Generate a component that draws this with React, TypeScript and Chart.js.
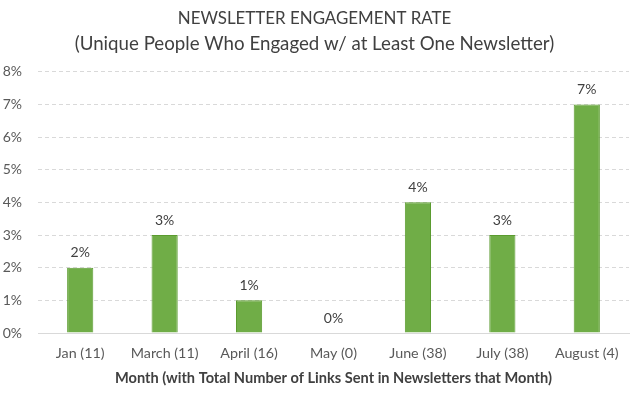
import React, { useEffect, useRef } from "react";
import { Chart, registerables } from "chart.js";

Chart.register(...registerables);

const categories = ["Jan (11)", "March (11)", "April (16)", "May (0)", "June (38)", "July (38)", "August (4)"];
const values = [2, 3, 1, 0, 4, 3, 7];
const titleLine1 = "NEWSLETTER ENGAGEMENT RATE";
const titleLine2 = "(Unique People Who Engaged w/ at Least One Newsletter)";
const xAxisTitle = "Month (with Total Number of Links Sent in Newsletters that Month)";

const FONT = "Lato, 'Open Sans', sans-serif";

const labelPlugin = {
  id: "valueLabels",
  afterDatasetsDraw(chart: any) {
    const { ctx } = chart;
    const meta = chart.getDatasetMeta(0);
    ctx.save();
    ctx.font = `14px ${FONT}`;
    ctx.fillStyle = "#404040";
    ctx.textAlign = "center";
    ctx.textBaseline = "middle";
    meta.data.forEach((bar: any, i: number) => {
      ctx.fillText(values[i] + "%", bar.x, bar.y - 15);
    });
    ctx.restore();
  },
};

export default function App() {
  const ref = useRef<HTMLCanvasElement | null>(null);
  useEffect(() => {
    document.body.style.margin = "0";
    const chart = new Chart(ref.current!, {
      type: "bar",
      data: {
        labels: categories,
        datasets: [
          {
            data: values,
            backgroundColor: "#70AD47",
            borderColor: "#5B9B2F",
            borderWidth: 1,
            categoryPercentage: 1,
            barPercentage: 0.31,
          },
        ],
      },
      plugins: [labelPlugin],
      options: {
        animation: false,
        responsive: false,
        maintainAspectRatio: false,
        layout: { padding: { left: 0, right: 11, top: 0, bottom: 0 } },
        plugins: {
          legend: { display: false },
          tooltip: { enabled: false },
          title: {
            display: true,
            text: titleLine1,
            color: "#404040",
            font: { family: FONT, size: 16.9, weight: "normal", lineHeight: 1.2 },
            padding: { top: 8, bottom: 4 },
          },
          subtitle: {
            display: true,
            text: titleLine2,
            color: "#404040",
            font: { family: FONT, size: 18.7, weight: "normal", lineHeight: 1.2 },
            padding: { top: 0, bottom: 17 },
          },
        },
        scales: {
          x: {
            afterFit: (scale: any) => {
              scale.height = 64;
            },
            grid: { display: false, drawTicks: false },
            border: { color: "#D9D9D9", width: 1 },
            ticks: {
              color: "#595959",
              font: { family: FONT, size: 14.3 },
              padding: 11.4,
              maxRotation: 0,
              minRotation: 0,
              autoSkip: false,
            },
            title: {
              display: true,
              text: xAxisTitle,
              color: "#404040",
              font: { family: FONT, size: 14.6, weight: "bold" },
              padding: { top: 0, bottom: 10 },
            },
          },
          y: {
            afterFit: (scale: any) => {
              scale.width = 38;
            },
            min: 0,
            max: 8,
            ticks: {
              stepSize: 1,
              color: "#595959",
              font: { family: FONT, size: 14 },
              padding: 16,
              callback: (v: any) => v + "%",
            },
            grid: { color: "#D9D9D9", drawTicks: false },
            border: { display: false, dash: [4, 3] },
          },
        },
      },
    });
    return () => chart.destroy();
  }, []);
  return <canvas ref={ref} width={640} height={397} style={{ display: "block" }} />;
}
